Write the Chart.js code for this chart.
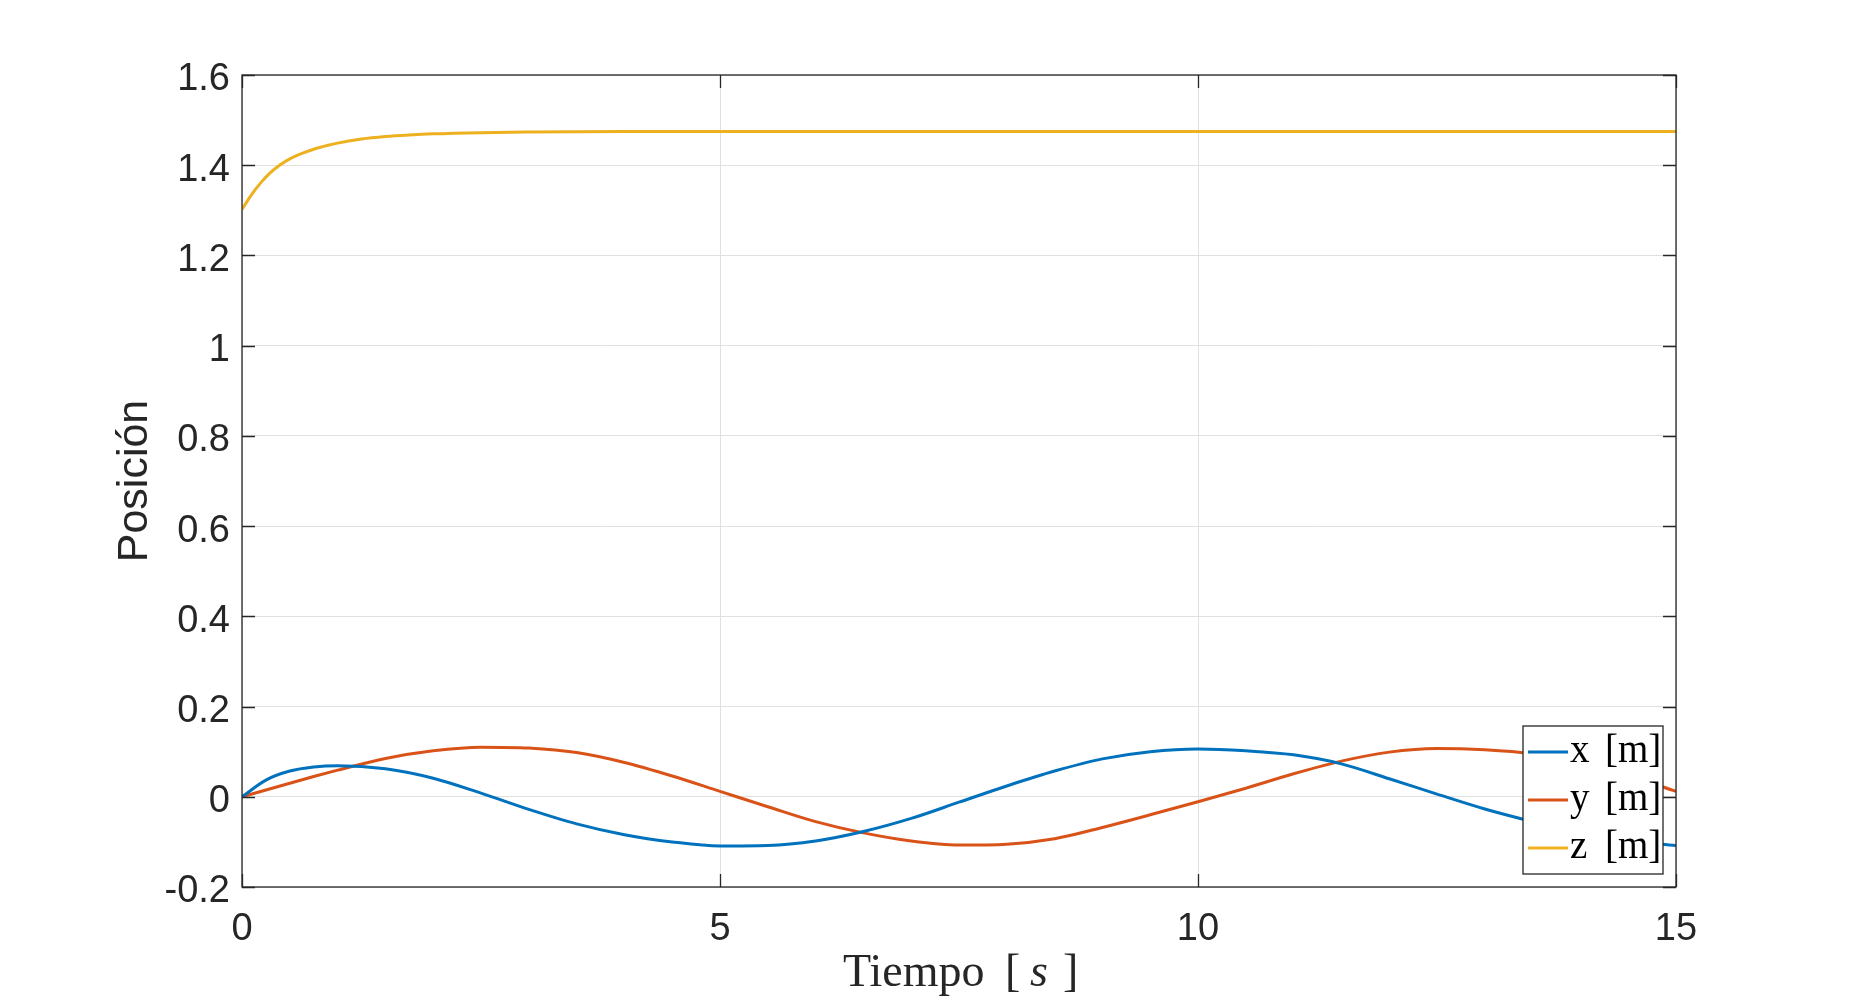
<!DOCTYPE html>
<html>
<head>
<meta charset="utf-8">
<title>Posición</title>
<script src="https://cdn.jsdelivr.net/npm/chart.js@4.4.1/dist/chart.umd.min.js"></script>
<style>
  html, body { margin: 0; padding: 0; background: #fff; }
  #wrap { width: 1853px; height: 1003px; }
</style>
</head>
<body>
<div id="wrap"><canvas id="posChart" width="1853" height="1003"></canvas></div>
<script>
// =========================================
// POSICIÓN vs TIEMPO
// =========================================
const tiempo = [0, 0.25, 0.5, 0.75, 1, 1.5, 2, 2.5, 3, 3.5, 4, 4.5, 5, 5.5, 6, 6.5, 7,
  7.5, 8, 8.5, 9, 9.5, 10, 10.5, 11, 11.5, 12, 12.5, 13, 13.5, 14, 14.5, 15];

const posX = [0, 0.037, 0.057, 0.066, 0.069, 0.062, 0.041, 0.008, -0.028, -0.060, -0.084,
  -0.100, -0.109, -0.108, -0.098, -0.077, -0.048, -0.012, 0.024, 0.057, 0.084, 0.100,
  0.106, 0.102, 0.093, 0.073, 0.040, 0.006, -0.027, -0.055, -0.080, -0.099, -0.108];

const posY = [0, 0.015, 0.030, 0.045, 0.059, 0.085, 0.102, 0.110, 0.108, 0.098, 0.076,
  0.046, 0.012, -0.022, -0.055, -0.080, -0.098, -0.107, -0.105, -0.093, -0.068, -0.040,
  -0.011, 0.019, 0.051, 0.079, 0.099, 0.107, 0.104, 0.095, 0.076, 0.047, 0.012];

// z tiene su propio muestreo (transitorio rápido al inicio)
const tiempoZ = [0, 0.1, 0.2, 0.3, 0.4, 0.5, 0.6, 0.75, 0.9, 1, 1.25, 1.5, 1.75, 2, 2.5,
  3, 3.5, 4, 5, 6, 7, 8, 9, 10, 11, 12, 13, 14, 15];

const posZ = [1.302, 1.335, 1.362, 1.384, 1.401, 1.414, 1.424, 1.4355, 1.4442, 1.4490, 1.4580,
  1.4635, 1.4670, 1.4695, 1.4722, 1.4736, 1.4744, 1.4748, 1.475, 1.475, 1.475, 1.475, 1.475,
  1.475, 1.475, 1.475, 1.475, 1.475, 1.475];

const seriesLabels = ['x', 'y', 'z'];
const seriesUnit = '[m]';
const seriesColors = ['#0072BD', '#D95319', '#EDB120'];

const xTicks = [0, 5, 10, 15];
const xTickLabels = ['0', '5', '10', '15'];
const yTicks = [-0.2, 0, 0.2, 0.4, 0.6, 0.8, 1, 1.2, 1.4, 1.6];
const yTickLabels = ['-0.2', '0', '0.2', '0.4', '0.6', '0.8', '1', '1.2', '1.4', '1.6'];

const yTitle = 'Posición';

const AXIS_COLOR = '#262626';
const SANS = '"Liberation Sans", Arial, Helvetica, sans-serif';
const SERIF = '"Liberation Serif", "Times New Roman", serif';
const TICK_LEN = 13;

// ejes tipo MATLAB: caja, marcas interiores, títulos y leyenda
const matlabFrame = {
    id: 'matlabFrame',
    afterDraw(chart) {
        const { ctx, chartArea: a, scales } = chart;
        const xs = scales.x, ys = scales.y;
        ctx.save();

        // caja
        ctx.strokeStyle = AXIS_COLOR;
        ctx.lineWidth = 1.3;
        ctx.strokeRect(a.left, a.top, a.right - a.left, a.bottom - a.top);

        // marcas
        ctx.beginPath();
        yTicks.forEach(v => {
            const py = Math.round(ys.getPixelForValue(v)) + 0.5;
            ctx.moveTo(a.left, py); ctx.lineTo(a.left + TICK_LEN, py);
            ctx.moveTo(a.right, py); ctx.lineTo(a.right - TICK_LEN, py);
        });
        xTicks.forEach(v => {
            const px = Math.round(xs.getPixelForValue(v)) + 0.5;
            ctx.moveTo(px, a.bottom); ctx.lineTo(px, a.bottom - TICK_LEN);
            ctx.moveTo(px, a.top); ctx.lineTo(px, a.top + TICK_LEN);
        });
        ctx.stroke();

        // título eje y
        ctx.fillStyle = AXIS_COLOR;
        ctx.font = '43px ' + SANS;
        ctx.textAlign = 'center';
        ctx.textBaseline = 'alphabetic';
        ctx.save();
        ctx.translate(147, (a.top + a.bottom) / 2);
        ctx.rotate(-Math.PI / 2);
        ctx.fillText(yTitle, 0, 0);
        ctx.restore();

        // título eje x: Tiempo [ s ]
        const cx = (a.left + a.right) / 2;
        const x0 = cx - 116, base = 986;
        ctx.textAlign = 'left';
        ctx.font = '46px ' + SERIF;
        ctx.fillText('Tiempo', x0, base);
        ctx.fillText('[', x0 + 162, base);
        ctx.fillText(']', x0 + 220, base);
        ctx.font = 'italic 46px ' + SERIF;
        ctx.fillText('s', x0 + 187, base);

        // leyenda
        const lw = 140, lh = 148;
        const lx = a.right - TICK_LEN, ly = a.bottom - TICK_LEN;
        ctx.fillStyle = '#ffffff';
        ctx.fillRect(lx - lw, ly - lh, lw, lh);
        ctx.strokeStyle = AXIS_COLOR;
        ctx.lineWidth = 1.3;
        ctx.strokeRect(lx - lw, ly - lh, lw, lh);
        chart.data.datasets.forEach((ds, i) => {
            const ry = ly - lh + 26 + i * 48;
            ctx.strokeStyle = ds.borderColor;
            ctx.lineWidth = 3;
            ctx.beginPath();
            ctx.moveTo(lx - lw + 5, ry); ctx.lineTo(lx - lw + 45, ry);
            ctx.stroke();
            ctx.fillStyle = '#000000';
            ctx.font = '39px ' + SERIF;
            ctx.fillText(seriesLabels[i], lx - lw + 47, ry + 10);
            ctx.fillText(seriesUnit, lx - lw + 82, ry + 10);
        });

        ctx.restore();
    }
};

const makeData = (ts, vals) => ts.map((t, i) => ({ x: t, y: vals[i] }));

const ctx = document.getElementById('posChart');
new Chart(ctx, {
    type: 'line',
    data: {
        datasets: [
            { label: 'x [m]', data: makeData(tiempo, posX), cubicInterpolationMode: 'monotone' },
            { label: 'y [m]', data: makeData(tiempo, posY), cubicInterpolationMode: 'monotone' },
            { label: 'z [m]', data: makeData(tiempoZ, posZ), cubicInterpolationMode: 'monotone' }
        ].map((ds, i) => Object.assign(ds, {
            borderColor: seriesColors[i],
            backgroundColor: seriesColors[i],
            borderWidth: 3,
            fill: false,
            pointRadius: 0
        }))
    },
    options: {
        responsive: false,
        animation: false,
        devicePixelRatio: 1,
        layout: { padding: { left: 0, right: 177, top: 75, bottom: 0 } },
        plugins: { legend: { display: false }, tooltip: { enabled: false } },
        scales: {
            x: {
                type: 'linear',
                min: 0, max: 15,
                afterFit: s => { s.height = 116; },
                afterBuildTicks: s => { s.ticks = xTicks.map(v => ({ value: v })); },
                grid: { color: '#e0e0e0', lineWidth: 1, drawTicks: false },
                border: { display: false },
                ticks: {
                    autoSkip: false, maxRotation: 0, padding: 20,
                    color: AXIS_COLOR,
                    font: { family: SANS, size: 38 },
                    callback: v => xTickLabels[xTicks.indexOf(v)]
                }
            },
            y: {
                type: 'linear',
                min: -0.2, max: 1.6,
                afterFit: s => { s.width = 242; },
                afterBuildTicks: s => { s.ticks = yTicks.map(v => ({ value: v })); },
                grid: { color: '#e0e0e0', lineWidth: 1, drawTicks: false },
                border: { display: false },
                ticks: {
                    autoSkip: false, padding: 12,
                    color: AXIS_COLOR,
                    // línea vacía + lineHeight corto: baja la etiqueta ~5px como en MATLAB
                    font: { family: SANS, size: 38, lineHeight: '10px' },
                    callback: v => ['', yTickLabels[yTicks.indexOf(v)]]
                }
            }
        }
    },
    plugins: [matlabFrame]
});
</script>
</body>
</html>
